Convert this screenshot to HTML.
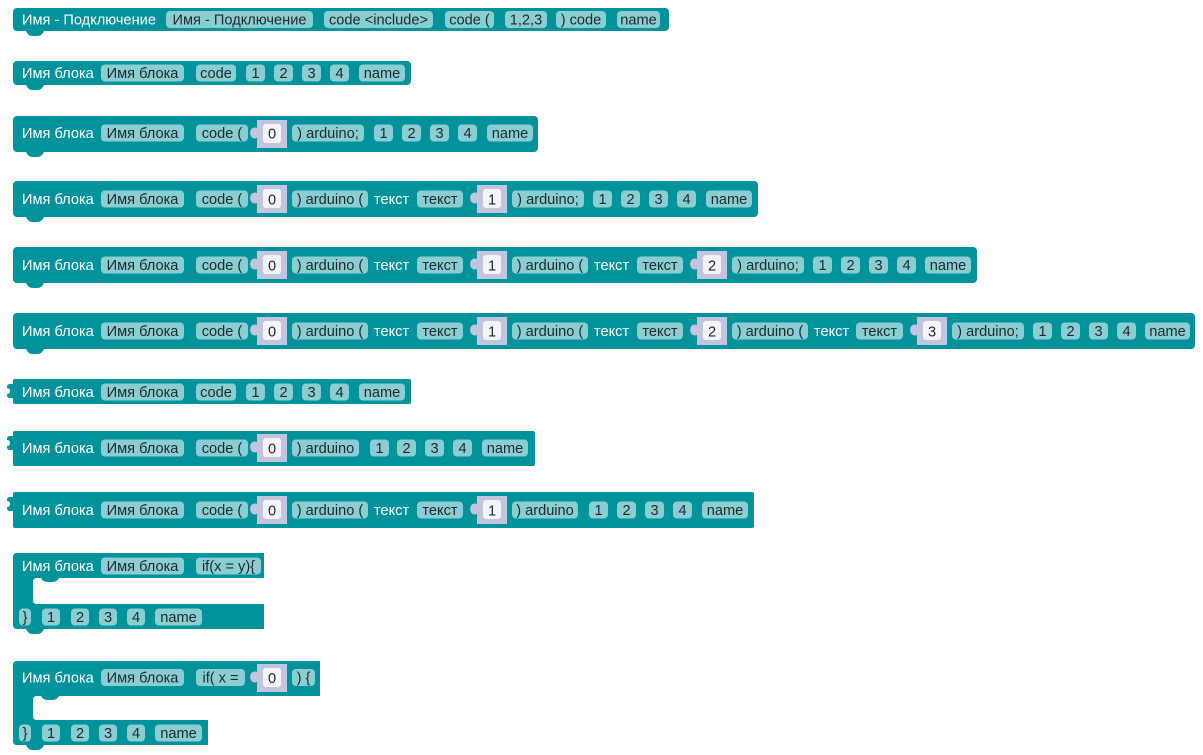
<!DOCTYPE html>
<html><head><meta charset="utf-8"><style>
html,body{margin:0;padding:0;background:#fff;width:1203px;height:755px;overflow:hidden}
svg{display:block}
.b{fill:#00939b}
.c{fill:#8bced2}
.i{fill:#c3c4dd}
.w{fill:#f4f4f8}
text{font-family:"Liberation Sans",sans-serif;font-size:14.6px}
.l{fill:#fff}
.t{fill:#1c2a2c;text-anchor:middle}
</style></head><body>
<svg width="1203" height="755" xmlns="http://www.w3.org/2000/svg">
<!-- Block 1 -->
<rect class="b" x="13" y="8" width="656" height="23" rx="4"/>
<path class="b" d="M26 31 q2 5 7 5 h4 q5 0 7-5z"/>
<text class="l" x="22" y="24.5">Имя - Подключение</text>
<rect class="c" x="166" y="11" width="147" height="17" rx="4"/><text class="t" x="239.5" y="24.5">Имя - Подключение</text>
<rect class="c" x="324" y="11" width="109" height="17" rx="4"/><text class="t" x="378.5" y="24.5">code &lt;include&gt;</text>
<rect class="c" x="445" y="11" width="49" height="17" rx="4"/><text class="t" x="469.5" y="24.5">code (</text>
<rect class="c" x="505" y="11" width="42" height="17" rx="4"/><text class="t" x="526" y="24.5">1,2,3</text>
<rect class="c" x="556" y="11" width="50" height="17" rx="4"/><text class="t" x="581" y="24.5">) code</text>
<rect class="c" x="617" y="11" width="43" height="17" rx="4"/><text class="t" x="638.5" y="24.5">name</text>

<!-- Block 2 -->
<rect class="b" x="13" y="61" width="398" height="24" rx="4"/>
<path class="b" d="M26 85 q2 5 7 5 h4 q5 0 7-5z"/>
<text class="l" x="22" y="78">Имя блока</text>
<rect class="c" x="101" y="64.5" width="83" height="17" rx="4"/><text class="t" x="142.5" y="78">Имя блока</text>
<rect class="c" x="196" y="64.5" width="40" height="17" rx="4"/><text class="t" x="216" y="78">code</text>
<rect class="c" x="246" y="64.5" width="19" height="17" rx="4"/><text class="t" x="255.5" y="78">1</text>
<rect class="c" x="274" y="64.5" width="19" height="17" rx="4"/><text class="t" x="283.5" y="78">2</text>
<rect class="c" x="302" y="64.5" width="19" height="17" rx="4"/><text class="t" x="311.5" y="78">3</text>
<rect class="c" x="330" y="64.5" width="19" height="17" rx="4"/><text class="t" x="339.5" y="78">4</text>
<rect class="c" x="359" y="64.5" width="46" height="17" rx="4"/><text class="t" x="382" y="78">name</text>

<!-- Block 3 -->
<rect class="b" x="13" y="116" width="525" height="36" rx="4"/>
<path class="b" d="M26 152 q2 5 7 5 h4 q5 0 7-5z"/>
<text class="l" x="22" y="138">Имя блока</text>
<rect class="c" x="101" y="124.5" width="83" height="17" rx="4"/><text class="t" x="142.5" y="138">Имя блока</text>
<rect class="c" x="196" y="124.5" width="52" height="17" rx="4"/><text class="t" x="222" y="138">code (</text>
<path class="i" d="M257 120 h30 v28 h-30 v-10 q-6 2-7-5 q1-7 7-5z"/><rect class="w" x="263" y="124" width="18" height="19" rx="3"/><text class="t" x="272" y="138.5">0</text>
<rect class="c" x="292" y="124.5" width="72" height="17" rx="4"/><text class="t" x="328" y="138">) arduino;</text>
<rect class="c" x="374" y="124.5" width="19" height="17" rx="4"/><text class="t" x="383.5" y="138">1</text>
<rect class="c" x="402" y="124.5" width="19" height="17" rx="4"/><text class="t" x="411.5" y="138">2</text>
<rect class="c" x="430" y="124.5" width="19" height="17" rx="4"/><text class="t" x="439.5" y="138">3</text>
<rect class="c" x="458" y="124.5" width="19" height="17" rx="4"/><text class="t" x="467.5" y="138">4</text>
<rect class="c" x="487" y="124.5" width="46" height="17" rx="4"/><text class="t" x="510" y="138">name</text>

<!-- Block 4 -->
<rect class="b" x="13" y="181" width="745" height="36" rx="4"/>
<path class="b" d="M26 217 q2 5 7 5 h4 q5 0 7-5z"/>
<text class="l" x="22" y="204">Имя блока</text>
<rect class="c" x="101" y="190.5" width="83" height="17" rx="4"/><text class="t" x="142.5" y="204">Имя блока</text>
<rect class="c" x="196" y="190.5" width="52" height="17" rx="4"/><text class="t" x="222" y="204">code (</text>
<path class="i" d="M257 185 h30 v28 h-30 v-10 q-6 2-7-5 q1-7 7-5z"/><rect class="w" x="263" y="189" width="18" height="19" rx="3"/><text class="t" x="272" y="204.5">0</text>
<rect class="c" x="292" y="190.5" width="76" height="17" rx="4"/><text class="t" x="330" y="204">) arduino (</text>
<text class="l" x="374" y="204">текст</text>
<rect class="c" x="417" y="190.5" width="46" height="17" rx="4"/><text class="t" x="440" y="204">текст</text>
<path class="i" d="M477 185 h30 v28 h-30 v-10 q-6 2-7-5 q1-7 7-5z"/><rect class="w" x="483" y="189" width="18" height="19" rx="3"/><text class="t" x="492" y="204.5">1</text>
<rect class="c" x="512" y="190.5" width="72" height="17" rx="4"/><text class="t" x="548" y="204">) arduino;</text>
<rect class="c" x="593" y="190.5" width="19" height="17" rx="4"/><text class="t" x="602.5" y="204">1</text>
<rect class="c" x="621" y="190.5" width="19" height="17" rx="4"/><text class="t" x="630.5" y="204">2</text>
<rect class="c" x="649" y="190.5" width="19" height="17" rx="4"/><text class="t" x="658.5" y="204">3</text>
<rect class="c" x="677" y="190.5" width="19" height="17" rx="4"/><text class="t" x="686.5" y="204">4</text>
<rect class="c" x="706" y="190.5" width="46" height="17" rx="4"/><text class="t" x="729" y="204">name</text>

<!-- Block 5 -->
<rect class="b" x="13" y="247" width="964" height="36" rx="4"/>
<path class="b" d="M26 283 q2 5 7 5 h4 q5 0 7-5z"/>
<text class="l" x="22" y="270">Имя блока</text>
<rect class="c" x="101" y="256.5" width="83" height="17" rx="4"/><text class="t" x="142.5" y="270">Имя блока</text>
<rect class="c" x="196" y="256.5" width="52" height="17" rx="4"/><text class="t" x="222" y="270">code (</text>
<path class="i" d="M257 251 h30 v28 h-30 v-10 q-6 2-7-5 q1-7 7-5z"/><rect class="w" x="263" y="255" width="18" height="19" rx="3"/><text class="t" x="272" y="270.5">0</text>
<rect class="c" x="292" y="256.5" width="76" height="17" rx="4"/><text class="t" x="330" y="270">) arduino (</text>
<text class="l" x="374" y="270">текст</text>
<rect class="c" x="417" y="256.5" width="46" height="17" rx="4"/><text class="t" x="440" y="270">текст</text>
<path class="i" d="M477 251 h30 v28 h-30 v-10 q-6 2-7-5 q1-7 7-5z"/><rect class="w" x="483" y="255" width="18" height="19" rx="3"/><text class="t" x="492" y="270.5">1</text>
<rect class="c" x="512" y="256.5" width="76" height="17" rx="4"/><text class="t" x="550" y="270">) arduino (</text>
<text class="l" x="594" y="270">текст</text>
<rect class="c" x="637" y="256.5" width="46" height="17" rx="4"/><text class="t" x="660" y="270">текст</text>
<path class="i" d="M697 251 h30 v28 h-30 v-10 q-6 2-7-5 q1-7 7-5z"/><rect class="w" x="703" y="255" width="18" height="19" rx="3"/><text class="t" x="712" y="270.5">2</text>
<rect class="c" x="732" y="256.5" width="72" height="17" rx="4"/><text class="t" x="768" y="270">) arduino;</text>
<rect class="c" x="813" y="256.5" width="19" height="17" rx="4"/><text class="t" x="822.5" y="270">1</text>
<rect class="c" x="841" y="256.5" width="19" height="17" rx="4"/><text class="t" x="850.5" y="270">2</text>
<rect class="c" x="869" y="256.5" width="19" height="17" rx="4"/><text class="t" x="878.5" y="270">3</text>
<rect class="c" x="897" y="256.5" width="19" height="17" rx="4"/><text class="t" x="906.5" y="270">4</text>
<rect class="c" x="925" y="256.5" width="46" height="17" rx="4"/><text class="t" x="948" y="270">name</text>

<!-- Block 6 -->
<rect class="b" x="13" y="313" width="1182" height="36" rx="4"/>
<path class="b" d="M26 349 q2 5 7 5 h4 q5 0 7-5z"/>
<text class="l" x="22" y="336">Имя блока</text>
<rect class="c" x="101" y="322.5" width="83" height="17" rx="4"/><text class="t" x="142.5" y="336">Имя блока</text>
<rect class="c" x="196" y="322.5" width="52" height="17" rx="4"/><text class="t" x="222" y="336">code (</text>
<path class="i" d="M257 317 h30 v28 h-30 v-10 q-6 2-7-5 q1-7 7-5z"/><rect class="w" x="263" y="321" width="18" height="19" rx="3"/><text class="t" x="272" y="336.5">0</text>
<rect class="c" x="292" y="322.5" width="76" height="17" rx="4"/><text class="t" x="330" y="336">) arduino (</text>
<text class="l" x="374" y="336">текст</text>
<rect class="c" x="417" y="322.5" width="46" height="17" rx="4"/><text class="t" x="440" y="336">текст</text>
<path class="i" d="M477 317 h30 v28 h-30 v-10 q-6 2-7-5 q1-7 7-5z"/><rect class="w" x="483" y="321" width="18" height="19" rx="3"/><text class="t" x="492" y="336.5">1</text>
<rect class="c" x="512" y="322.5" width="76" height="17" rx="4"/><text class="t" x="550" y="336">) arduino (</text>
<text class="l" x="594" y="336">текст</text>
<rect class="c" x="637" y="322.5" width="46" height="17" rx="4"/><text class="t" x="660" y="336">текст</text>
<path class="i" d="M697 317 h30 v28 h-30 v-10 q-6 2-7-5 q1-7 7-5z"/><rect class="w" x="703" y="321" width="18" height="19" rx="3"/><text class="t" x="712" y="336.5">2</text>
<rect class="c" x="732" y="322.5" width="76" height="17" rx="4"/><text class="t" x="770" y="336">) arduino (</text>
<text class="l" x="814" y="336">текст</text>
<rect class="c" x="856" y="322.5" width="47" height="17" rx="4"/><text class="t" x="879.5" y="336">текст</text>
<path class="i" d="M917 317 h30 v28 h-30 v-10 q-6 2-7-5 q1-7 7-5z"/><rect class="w" x="923" y="321" width="18" height="19" rx="3"/><text class="t" x="932" y="336.5">3</text>
<rect class="c" x="952" y="322.5" width="72" height="17" rx="4"/><text class="t" x="988" y="336">) arduino;</text>
<rect class="c" x="1033" y="322.5" width="19" height="17" rx="4"/><text class="t" x="1042.5" y="336">1</text>
<rect class="c" x="1061" y="322.5" width="19" height="17" rx="4"/><text class="t" x="1070.5" y="336">2</text>
<rect class="c" x="1089" y="322.5" width="19" height="17" rx="4"/><text class="t" x="1098.5" y="336">3</text>
<rect class="c" x="1117" y="322.5" width="19" height="17" rx="4"/><text class="t" x="1126.5" y="336">4</text>
<rect class="c" x="1145" y="322.5" width="45" height="17" rx="4"/><text class="t" x="1167.5" y="336">name</text>

<!-- Block 7 -->
<rect class="b" x="13" y="379" width="398" height="25" rx="2"/>
<path class="b" d="M14 384 h-4 q-3 0-3 3 v1 q3 0 3 3 t-3 3 v1 q0 3 3 3 h4z"/>
<text class="l" x="22" y="397">Имя блока</text>
<rect class="c" x="101" y="383.5" width="83" height="17" rx="4"/><text class="t" x="142.5" y="397">Имя блока</text>
<rect class="c" x="196" y="383.5" width="40" height="17" rx="4"/><text class="t" x="216" y="397">code</text>
<rect class="c" x="246" y="383.5" width="19" height="17" rx="4"/><text class="t" x="255.5" y="397">1</text>
<rect class="c" x="274" y="383.5" width="19" height="17" rx="4"/><text class="t" x="283.5" y="397">2</text>
<rect class="c" x="302" y="383.5" width="19" height="17" rx="4"/><text class="t" x="311.5" y="397">3</text>
<rect class="c" x="330" y="383.5" width="19" height="17" rx="4"/><text class="t" x="339.5" y="397">4</text>
<rect class="c" x="359" y="383.5" width="46" height="17" rx="4"/><text class="t" x="382" y="397">name</text>

<!-- Block 8 -->
<rect class="b" x="13" y="431" width="522" height="35" rx="2"/>
<path class="b" d="M14 436 h-4 q-3 0-3 3 v1 q3 0 3 3 t-3 3 v1 q0 3 3 3 h4z"/>
<text class="l" x="22" y="453">Имя блока</text>
<rect class="c" x="101" y="439.5" width="83" height="17" rx="4"/><text class="t" x="142.5" y="453">Имя блока</text>
<rect class="c" x="196" y="439.5" width="52" height="17" rx="4"/><text class="t" x="222" y="453">code (</text>
<path class="i" d="M257 434 h30 v28 h-30 v-10 q-6 2-7-5 q1-7 7-5z"/><rect class="w" x="263" y="438" width="18" height="19" rx="3"/><text class="t" x="272" y="453.5">0</text>
<rect class="c" x="292" y="439.5" width="67" height="17" rx="4"/><text class="t" x="325.5" y="453">) arduino</text>
<rect class="c" x="370" y="439.5" width="19" height="17" rx="4"/><text class="t" x="379.5" y="453">1</text>
<rect class="c" x="397" y="439.5" width="19" height="17" rx="4"/><text class="t" x="406.5" y="453">2</text>
<rect class="c" x="425" y="439.5" width="19" height="17" rx="4"/><text class="t" x="434.5" y="453">3</text>
<rect class="c" x="453" y="439.5" width="19" height="17" rx="4"/><text class="t" x="462.5" y="453">4</text>
<rect class="c" x="482" y="439.5" width="46" height="17" rx="4"/><text class="t" x="505" y="453">name</text>

<!-- Block 9 -->
<rect class="b" x="13" y="492" width="741" height="36" rx="2"/>
<path class="b" d="M14 497 h-4 q-3 0-3 3 v1 q3 0 3 3 t-3 3 v1 q0 3 3 3 h4z"/>
<text class="l" x="22" y="515">Имя блока</text>
<rect class="c" x="101" y="501.5" width="83" height="17" rx="4"/><text class="t" x="142.5" y="515">Имя блока</text>
<rect class="c" x="196" y="501.5" width="52" height="17" rx="4"/><text class="t" x="222" y="515">code (</text>
<path class="i" d="M257 496 h30 v28 h-30 v-10 q-6 2-7-5 q1-7 7-5z"/><rect class="w" x="263" y="500" width="18" height="19" rx="3"/><text class="t" x="272" y="515.5">0</text>
<rect class="c" x="292" y="501.5" width="76" height="17" rx="4"/><text class="t" x="330" y="515">) arduino (</text>
<text class="l" x="374" y="515">текст</text>
<rect class="c" x="417" y="501.5" width="46" height="17" rx="4"/><text class="t" x="440" y="515">текст</text>
<path class="i" d="M477 496 h30 v28 h-30 v-10 q-6 2-7-5 q1-7 7-5z"/><rect class="w" x="483" y="500" width="18" height="19" rx="3"/><text class="t" x="492" y="515.5">1</text>
<rect class="c" x="512" y="501.5" width="66" height="17" rx="4"/><text class="t" x="545" y="515">) arduino</text>
<rect class="c" x="589" y="501.5" width="19" height="17" rx="4"/><text class="t" x="598.5" y="515">1</text>
<rect class="c" x="617" y="501.5" width="19" height="17" rx="4"/><text class="t" x="626.5" y="515">2</text>
<rect class="c" x="645" y="501.5" width="19" height="17" rx="4"/><text class="t" x="654.5" y="515">3</text>
<rect class="c" x="673" y="501.5" width="19" height="17" rx="4"/><text class="t" x="682.5" y="515">4</text>
<rect class="c" x="702" y="501.5" width="46" height="17" rx="4"/><text class="t" x="725" y="515">name</text>

<!-- Block 10 -->
<path class="b" d="M17 553 H264 V578 H59 q-2 4-7 4 h-4 q-5 0-7-4 H37 Q33 578 33 582 V600 Q33 604 37 604 H264 V629 H17 Q13 629 13 625 V557 Q13 553 17 553 Z"/>
<path class="b" d="M26 629 q2 5 7 5 h4 q5 0 7-5z"/>
<text class="l" x="22" y="571">Имя блока</text>
<rect class="c" x="101" y="557.5" width="83" height="17" rx="4"/><text class="t" x="142.5" y="571">Имя блока</text>
<rect class="c" x="196" y="557.5" width="65" height="17" rx="4"/><text class="t" x="228.5" y="571">if(x = y){</text>
<rect class="c" x="19" y="608.5" width="12" height="17" rx="4"/><text class="t" x="25" y="622">}</text>
<rect class="c" x="42" y="608.5" width="18" height="17" rx="4"/><text class="t" x="51" y="622">1</text>
<rect class="c" x="71" y="608.5" width="18" height="17" rx="4"/><text class="t" x="80" y="622">2</text>
<rect class="c" x="99" y="608.5" width="18" height="17" rx="4"/><text class="t" x="108" y="622">3</text>
<rect class="c" x="127" y="608.5" width="18" height="17" rx="4"/><text class="t" x="136" y="622">4</text>
<rect class="c" x="155" y="608.5" width="47" height="17" rx="4"/><text class="t" x="178.5" y="622">name</text>

<!-- Block 11 -->
<path class="b" d="M17 661 H320 V696 H59 q-2 4-7 4 h-4 q-5 0-7-4 H37 Q33 696 33 700 V716 Q33 720 37 720 H208 V745 H17 Q13 745 13 741 V665 Q13 661 17 661 Z"/>
<path class="b" d="M26 745 q2 5 7 5 h4 q5 0 7-5z"/>
<text class="l" x="22" y="682.5">Имя блока</text>
<rect class="c" x="101" y="669" width="83" height="17" rx="4"/><text class="t" x="142.5" y="682.5">Имя блока</text>
<rect class="c" x="196" y="669" width="49" height="17" rx="4"/><text class="t" x="220.5" y="682.5">if( x =</text>
<path class="i" d="M257 664 h30 v28 h-30 v-10 q-6 2-7-5 q1-7 7-5z"/><rect class="w" x="263" y="668" width="18" height="19" rx="3"/><text class="t" x="272" y="683">0</text>
<rect class="c" x="292" y="669" width="23" height="17" rx="4"/><text class="t" x="303.5" y="682.5">) {</text>
<rect class="c" x="19" y="724.5" width="12" height="17" rx="4"/><text class="t" x="25" y="738">}</text>
<rect class="c" x="42" y="724.5" width="18" height="17" rx="4"/><text class="t" x="51" y="738">1</text>
<rect class="c" x="71" y="724.5" width="18" height="17" rx="4"/><text class="t" x="80" y="738">2</text>
<rect class="c" x="99" y="724.5" width="18" height="17" rx="4"/><text class="t" x="108" y="738">3</text>
<rect class="c" x="127" y="724.5" width="18" height="17" rx="4"/><text class="t" x="136" y="738">4</text>
<rect class="c" x="155" y="724.5" width="47" height="17" rx="4"/><text class="t" x="178.5" y="738">name</text>
</svg>
</body></html>
